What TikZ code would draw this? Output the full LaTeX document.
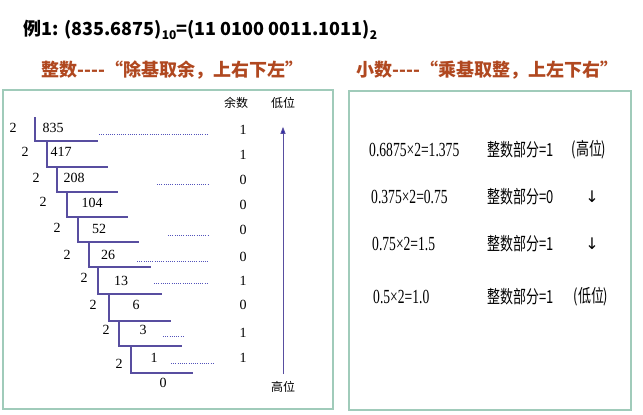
\documentclass[tikz,border=0pt]{standalone}
\usepackage{fontspec}
\setmainfont{Liberation Serif}
\newfontfamily\cjk{Noto Sans CJK SC}
\newfontfamily\narrowserif[FakeStretch=0.68]{Liberation Serif}
\newfontfamily\narrowcjk[FakeStretch=0.72]{Noto Sans CJK SC}
\newfontfamily\symfont{DejaVu Sans}
\definecolor{BoxGreen}{RGB}{160,203,186}
\definecolor{RuleBlue}{RGB}{88,78,160}
\definecolor{RustRed}{RGB}{176,72,32}
\definecolor{ArrowBlue}{RGB}{40,40,170}
\usetikzlibrary{arrows.meta, positioning}
\newcommand{\lowidx}[1]{\raisebox{-0.4ex}{\fontsize{12}{12}\selectfont #1}}
\tikzset{
  panel/.style={draw=BoxGreen, line width=1.2pt},
  headline/.style={anchor=west, text=RustRed, font=\cjk\bfseries\fontsize{18}{20}\selectfont},
  numtext/.style={font=\fontsize{14}{15}\selectfont, inner sep=1pt},
  smalllabel/.style={font=\cjk\fontsize{12}{13}\selectfont, inner sep=1pt},
  rulepath/.style={draw=RuleBlue, line width=1.2pt},
  dotpath/.style={draw=ArrowBlue!80, line width=0.8pt, dash pattern=on 1pt off 1.2pt},
  steptext/.style={anchor=west, font=\narrowserif\fontsize{20}{22}\selectfont, inner sep=1pt},
  parttext/.style={anchor=west, font=\narrowcjk\fontsize{18}{20}\selectfont, inner sep=1pt},
  marktext/.style={font=\narrowcjk\fontsize{18}{20}\selectfont, inner sep=1pt}
}

\begin{document}
\begin{tikzpicture}[x=1pt, y=-1pt]
  \useasboundingbox (0,0) rectangle (643,415);

  % heading
  \node[anchor=west, font=\cjk\bfseries\fontsize{18}{20}\selectfont] (title) at (20,30)
    {例1: (835.6875)\lowidx{10}=(11 0100 0011.1011)\lowidx{2}};
  \node[headline] (inthead) at (38,70) {整数----“除基取余，上右下左”};
  \node[headline] (frachead) at (353,70) {小数----“乘基取整，上左下右”};

  % panels
  \draw[panel] (3,90) rectangle (333,409);
  \draw[panel] (349,91) rectangle (631,410);

  % integer part: repeated division by 2
  \node[smalllabel] (yushu) at (236,103) {余数};
  \node[smalllabel] (diwei) at (283,103) {低位};
  \node[smalllabel] (gaowei) at (283,387) {高位};
  \draw[RuleBlue, line width=0.9pt, -{Triangle[length=7pt, width=5pt, fill=ArrowBlue]}]
    ([yshift=6pt]gaowei.north) -- ([yshift=-17pt]diwei.south);

  \foreach \dx/\dy/\vx/\yt/\yb/\hx/\q/\qx/\qy/\r/\ry [count=\i] in {
      13/128/35/117/141/98/835/53/128/1/130,
      25/152/47/141/167/108/417/61/152/1/155,
      36/178/57/167/192/118/208/74/178/0/180,
      43/202/67/192/217/128/104/92/203/0/205,
      57/228/78/217/242/139/52/99/229/0/230,
      67/255/89/242/267/151/26/108/255/0/257,
      84/278/98/267/294/162/13/121/281/1/281,
      93/305/109/294/321/171/6/136/305/0/305,
      106/330/119/321/346/182/3/143/330/1/333,
      119/364/131/346/373/193/1/154/358/1/358}
  {
    \node[numtext] (div\i) at (\dx,\dy) {2};
    \node[numtext] (quot\i) at (\qx,\qy) {\q};
    \node[numtext] (rem\i) at (243,\ry) {\r};
    \draw[rulepath] (\vx,\yt) -- (\vx,\yb) -- (\hx,\yb);
  }
  \node[numtext] (quot11) at (163,383) {0};

  % dotted leaders
  \foreach \xa/\xb/\yy in {99/208/134, 157/208/184, 168/208/235, 137/208/261,
                           154/207/283, 163/185/336, 171/213/363}
    \draw[dotpath] (\xa,\yy) -- (\xb,\yy);

  % fractional part: repeated multiplication by 2
  \node[steptext] (mul1) at (368,150) {0.6875×2=1.375};
  \node[steptext] (mul2) at (370,197) {0.375×2=0.75};
  \node[steptext] (mul3) at (371,244) {0.75×2=1.5};
  \node[steptext] (mul4) at (372,297) {0.5×2=1.0};
  \node[parttext] (part1) at (486,150) {整数部分=1};
  \node[parttext] (part2) at (486,197) {整数部分=0};
  \node[parttext] (part3) at (486,244) {整数部分=1};
  \node[parttext] (part4) at (486,297) {整数部分=1};
  \node[marktext] (high) at (589,150) {(高位)};
  \node[marktext, font=\symfont\fontsize{16}{18}\selectfont] (down1) at (592,197) {↓};
  \node[marktext, font=\symfont\fontsize{16}{18}\selectfont] (down2) at (592,244) {↓};
  \node[marktext] (low) at (591,297) {(低位)};
\end{tikzpicture}
\end{document}
